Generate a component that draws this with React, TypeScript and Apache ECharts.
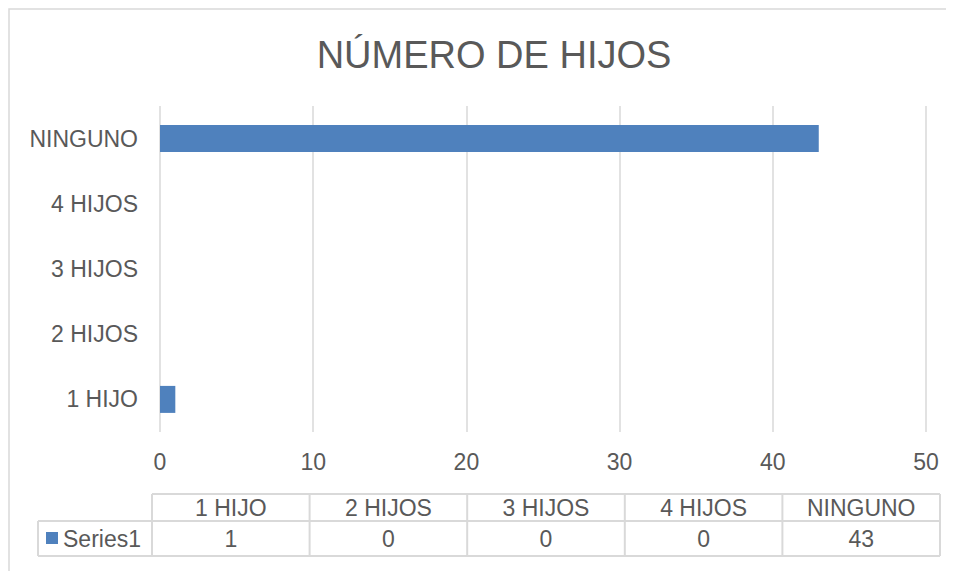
import React, { useEffect, useRef } from "react";
import * as echarts from "echarts";

const categories = ["1 HIJO", "2 HIJOS", "3 HIJOS", "4 HIJOS", "NINGUNO"];
const seriesName = "Series1";
const values = [1, 0, 0, 0, 43];
const xTicks = { min: 0, max: 50, interval: 10 };
const titleText = "NÚMERO DE HIJOS";

const W = 946;
const H = 563;
const FONT = "'Liberation Sans', Arial, sans-serif";
const TEXT = "#595959";
const LINE = "#d9d9d9";
const BLUE = "#4f81bd";

export default function App() {
  const ref = useRef<HTMLDivElement>(null);
  useEffect(() => {
    if (!ref.current) return;
    const chart = echarts.init(ref.current, undefined, { renderer: "svg" });

    // data table layout
    const tLeft = 144;
    const tRight = 932;
    const hTop = 486;
    const hBot = 513;
    const vBot = 548;
    const lLeft = 30;
    const colW = (tRight - tLeft) / categories.length;
    const graphics: any[] = [];
    const ln = (x1: number, y1: number, x2: number, y2: number) =>
      graphics.push({
        type: "line",
        shape: { x1, y1, x2, y2 },
        style: { stroke: LINE, lineWidth: 2 },
        silent: true,
      });
    ln(tLeft, hTop, tRight, hTop);
    ln(lLeft, hBot, tRight, hBot);
    ln(lLeft, vBot, tRight, vBot);
    ln(lLeft, hBot, lLeft, vBot);
    for (let i = 0; i <= categories.length; i++) {
      const x = tLeft + i * colW;
      ln(x, hTop, x, vBot);
    }
    categories.forEach((c, i) => {
      const cx = tLeft + (i + 0.5) * colW;
      graphics.push({
        type: "text",
        x: cx,
        y: (hTop + hBot) / 2,
        style: {
          text: c,
          fill: TEXT,
          font: `23px ${FONT}`,
          textAlign: "center",
          textVerticalAlign: "middle",
        },
      });
      graphics.push({
        type: "text",
        x: cx,
        y: (hBot + vBot) / 2,
        style: {
          text: String(values[i]),
          fill: TEXT,
          font: `23px ${FONT}`,
          textAlign: "center",
          textVerticalAlign: "middle",
        },
      });
    });
    graphics.push({
      type: "rect",
      shape: { x: 38, y: 524, width: 12, height: 12 },
      style: { fill: BLUE },
    });
    graphics.push({
      type: "text",
      x: 55,
      y: (hBot + vBot) / 2,
      style: {
        text: seriesName,
        fill: TEXT,
        font: `23px ${FONT}`,
        textAlign: "left",
        textVerticalAlign: "middle",
      },
    });
    graphics.push({
      type: "polyline",
      shape: { points: [[1, H], [1, 1], [W, 1]] },
      style: { stroke: LINE, lineWidth: 1.5, fill: "none" },
      silent: true,
    });

    chart.setOption({
      animation: false,
      backgroundColor: "#ffffff",
      title: {
        text: titleText,
        left: 481,
        top: 23,
        textAlign: "center",
        textStyle: {
          fontFamily: FONT,
          fontSize: 38,
          fontWeight: "normal",
          color: TEXT,
        },
      },
      grid: { left: 152, right: 28, top: 98, bottom: 139 },
      xAxis: {
        type: "value",
        min: xTicks.min,
        max: xTicks.max,
        interval: xTicks.interval,
        axisLine: { show: false },
        axisTick: { show: false },
        splitLine: { show: true, lineStyle: { color: LINE, width: 1.5 } },
        axisLabel: {
          color: TEXT,
          fontFamily: FONT,
          fontSize: 23,
          margin: 18,
        },
      },
      yAxis: {
        type: "category",
        data: categories,
        axisLine: { show: false },
        axisTick: { show: false },
        axisLabel: {
          color: TEXT,
          fontFamily: FONT,
          fontSize: 23,
          margin: 22,
        },
      },
      series: [
        {
          name: seriesName,
          type: "bar",
          data: values,
          barWidth: 27,
          itemStyle: { color: BLUE, borderWidth: 0 },
        },
      ],
      graphic: graphics,
    });
    return () => chart.dispose();
  }, []);
  return <div ref={ref} style={{ width: W, height: H }} />;
}
